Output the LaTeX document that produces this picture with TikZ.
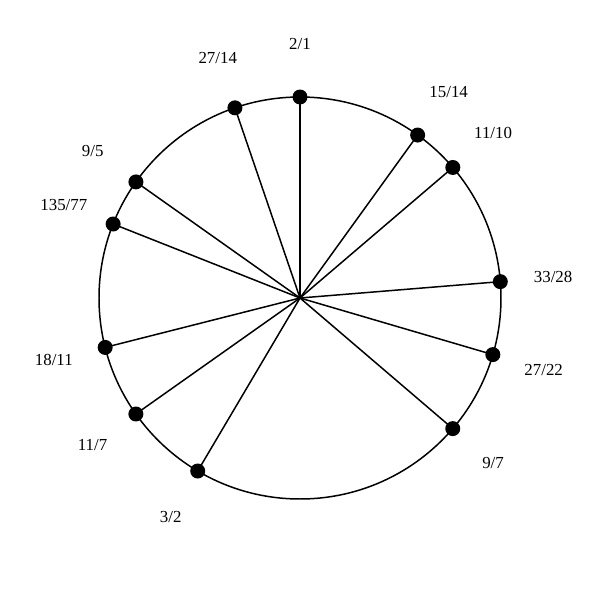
\documentclass[tikz,border=0pt]{standalone}
\usepackage{fontspec}
\setmainfont{Liberation Serif}
\usetikzlibrary{calc}
\begin{document}
\begin{tikzpicture}[x=0.02cm,y=0.02cm,
  spoke/.style={line width=0.85pt},
  dot/.style={circle,fill=black,inner sep=0pt,minimum size=0.3cm},
  lab/.style={font=\fontsize{9.6}{11}\selectfont,inner sep=0pt}]
\useasboundingbox (0,0) rectangle (600,600);
\coordinate (c) at (300,302);
\draw[line width=0.85pt] (c) circle (201);
\foreach \n/\a/\t in {a/90/2\slash 1, b/54.17/15\slash 14, d/40.50/11\slash 10, e/4.67/33\slash 28,
  f/-16.36/27\slash 22, g/-40.53/9\slash 7, h/-120.59/3\slash 2, i/-144.75/11\slash 7,
  j/-165.77/18\slash 11, k/158.40/135\slash 77, l/144.72/9\slash 5, m/108.89/27\slash 14}{
  \node[dot] (p\n) at ($(c)+(\a:201)$) {};
  \draw[spoke] (c) -- (p\n.center);
  \node[lab] (t\n) at ($(c)+(\a:254)$) {\t};
}
\end{tikzpicture}
\end{document}
